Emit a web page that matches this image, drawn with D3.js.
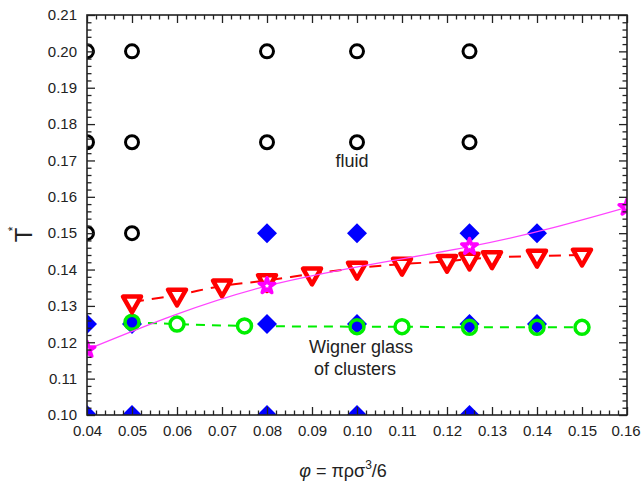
<!DOCTYPE html>
<html><head><meta charset="utf-8">
<script src="https://cdn.jsdelivr.net/npm/d3@7"></script>
<style>body{margin:0;background:#fff}svg{display:block}</style>
</head><body>
<svg id="c" width="641" height="482"></svg>
<script>
// ---- data ----
const xTicks = [0.04,0.05,0.06,0.07,0.08,0.09,0.10,0.11,0.12,0.13,0.14,0.15,0.16];
const yTicks = [0.10,0.11,0.12,0.13,0.14,0.15,0.16,0.17,0.18,0.19,0.20,0.21];

// fluid state points (black open circles)
const fluidPhi = [0.04,0.05,0.08,0.10,0.125, 0.04,0.05,0.08,0.10,0.125, 0.04,0.05];
const fluidT   = [0.20,0.20,0.20,0.20,0.20,  0.175,0.175,0.175,0.175,0.175, 0.15,0.15];

// glass state points (blue diamonds)
const glassPhi = [0.08,0.10,0.125,0.14, 0.04,0.05,0.08,0.10,0.125,0.14, 0.04,0.05,0.08,0.10,0.125];
const glassT   = [0.15,0.15,0.15,0.15, 0.125,0.125,0.125,0.125,0.125,0.125, 0.10,0.10,0.10,0.10,0.10];

// red down triangles
const triPhi = [0.05,0.06,0.07,0.08,0.09,0.10,0.11,0.12,0.125,0.13,0.14,0.15];
const triT   = [0.1311,0.1330,0.1355,0.1370,0.1388,0.1404,0.1415,0.1423,0.1429,0.1433,0.1437,0.1440];

// green open circles
const grnPhi = [0.05,0.06,0.075,0.10,0.11,0.125,0.14,0.15];
const grnT   = [0.1255,0.1250,0.1245,0.1243,0.1243,0.1241,0.1241,0.1241];

// magenta stars
const starPhi = [0.04,0.08,0.125,0.16];
const starT   = [0.1180,0.1355,0.1463,0.1571];

// ---- layout ----
const svg = d3.select("#c");
const L = 87, R = 627, T = 15, B = 415;
const x = d3.scaleLinear().domain([0.04,0.16]).range([L,R]);
const y = d3.scaleLinear().domain([0.10,0.21]).range([B,T]);
const font = "'Liberation Sans', Arial, Helvetica, sans-serif";

svg.append("defs").append("clipPath").attr("id","clip")
  .append("rect").attr("x",L).attr("y",T).attr("width",R-L).attr("height",B-T);

const zip = (a,b)=>a.map((v,i)=>[v,b[i]]);

const plot = svg.append("g").attr("clip-path","url(#clip)");

// black circles
plot.selectAll(".fl").data(zip(fluidPhi,fluidT)).join("circle")
  .attr("cx",d=>x(d[0])).attr("cy",d=>y(d[1])).attr("r",6.5)
  .attr("fill","none").attr("stroke","#000").attr("stroke-width",3);

// green dashed line
plot.append("path").datum(zip(grnPhi,grnT))
  .attr("d", d3.line().x(d=>x(d[0])).y(d=>y(d[1])).curve(d3.curveMonotoneX))
  .attr("fill","none").attr("stroke","#00ee00").attr("stroke-width",2)
  .attr("stroke-dasharray","9,7");
// green circle white backing
plot.selectAll(".gb").data(zip(grnPhi,grnT)).join("circle")
  .attr("cx",d=>x(d[0])).attr("cy",d=>y(d[1])).attr("r",7)
  .attr("fill","#fff");

// blue diamonds
const dh = 10;
plot.selectAll(".gl").data(zip(glassPhi,glassT)).join("path")
  .attr("transform",d=>`translate(${x(d[0])},${y(d[1])})`)
  .attr("d",`M0,${-dh}L${dh},0L0,${dh}L${-dh},0Z`)
  .attr("fill","#0000ff");

// green circles stroke
plot.selectAll(".gc").data(zip(grnPhi,grnT)).join("circle")
  .attr("cx",d=>x(d[0])).attr("cy",d=>y(d[1])).attr("r",7)
  .attr("fill","none").attr("stroke","#00ee00").attr("stroke-width",3.5);

// red dashed line
plot.append("path").datum(zip(triPhi,triT))
  .attr("d", d3.line().x(d=>x(d[0])).y(d=>y(d[1])).curve(d3.curveMonotoneX))
  .attr("fill","none").attr("stroke","#ff0000").attr("stroke-width",2)
  .attr("stroke-dasharray","12,8");
// red triangles
plot.selectAll(".tr").data(zip(triPhi,triT)).join("path")
  .attr("transform",d=>`translate(${x(d[0])},${y(d[1])})`)
  .attr("d","M-9,-5.3L9,-5.3L0,10.5Z")
  .attr("fill","#fff").attr("stroke","#ff0000").attr("stroke-width",4.5)
  .attr("stroke-linejoin","round");

// magenta curve
plot.append("path").datum(zip(starPhi,starT))
  .attr("d", d3.line().x(d=>x(d[0])).y(d=>y(d[1])).curve(d3.curveNatural))
  .attr("fill","none").attr("stroke","#ff44ff").attr("stroke-width",1.3);
// stars
plot.selectAll(".st").data(zip(starPhi,starT)).join("path")
  .attr("transform",d=>`translate(${x(d[0])},${y(d[1])})`)
  .attr("d", d3.symbol(d3.symbolStar, 75)())
  .attr("fill","#fff").attr("stroke","#ff00ff").attr("stroke-width",3.5)
  .attr("stroke-linejoin","round");

// ---- axes ----
const minorX = d3.range(0.04,0.1601,0.002).filter(v=>Math.abs(v*100-Math.round(v*100))>1e-6);
const minorY = d3.range(0.10,0.2101,0.002).filter(v=>Math.abs(v*100-Math.round(v*100))>1e-6);
function styleAxis(g){ g.select(".domain").remove(); g.selectAll("line").attr("stroke","#222").attr("stroke-width",1.3);
  g.selectAll("text").attr("font-family",font).attr("font-size","15px").attr("fill","#222"); }

const xb = svg.append("g").attr("transform",`translate(0,${B})`)
  .call(d3.axisBottom(x).tickValues(xTicks).tickSize(-8).tickPadding(10).tickFormat(d3.format(".2f"))).call(styleAxis);
xb.selectAll("text").filter(d=>d>0.159).attr("dx","-1.5");
svg.append("g").attr("transform",`translate(0,${B})`)
  .call(d3.axisBottom(x).tickValues(minorX).tickSize(-4.5).tickFormat("")).call(styleAxis);
svg.append("g").attr("transform",`translate(0,${T})`)
  .call(d3.axisTop(x).tickValues(xTicks).tickSize(-8).tickFormat("")).call(styleAxis);
svg.append("g").attr("transform",`translate(0,${T})`)
  .call(d3.axisTop(x).tickValues(minorX).tickSize(-4.5).tickFormat("")).call(styleAxis);

svg.append("g").attr("transform",`translate(${L},0)`)
  .call(d3.axisLeft(y).tickValues(yTicks).tickSize(-8).tickPadding(10).tickFormat(d3.format(".2f"))).call(styleAxis);
svg.append("g").attr("transform",`translate(${L},0)`)
  .call(d3.axisLeft(y).tickValues(minorY).tickSize(-4.5).tickFormat("")).call(styleAxis);
svg.append("g").attr("transform",`translate(${R},0)`)
  .call(d3.axisRight(y).tickValues(yTicks).tickSize(-8).tickFormat("")).call(styleAxis);
svg.append("g").attr("transform",`translate(${R},0)`)
  .call(d3.axisRight(y).tickValues(minorY).tickSize(-4.5).tickFormat("")).call(styleAxis);

svg.append("rect").attr("x",L).attr("y",T).attr("width",R-L).attr("height",B-T)
  .attr("fill","none").attr("stroke","#222").attr("stroke-width",1.6);

// ---- texts ----
svg.append("text").attr("x",352).attr("y",167).attr("text-anchor","middle")
  .attr("font-family",font).attr("font-size","18px").attr("fill","#222").text("fluid");
svg.append("text").attr("x",361).attr("y",353).attr("text-anchor","middle")
  .attr("font-family",font).attr("font-size","18px").attr("fill","#222").text("Wigner glass");
svg.append("text").attr("x",355).attr("y",375).attr("text-anchor","middle")
  .attr("font-family",font).attr("font-size","18px").attr("fill","#222").text("of clusters");

// x label
const xl = svg.append("text").attr("x",343).attr("y",477).attr("text-anchor","middle")
  .attr("font-family",font).attr("font-size","18px").attr("fill","#222");
xl.append("tspan").attr("font-style","italic").text("φ");
xl.append("tspan").text(" = πρσ");
xl.append("tspan").attr("font-size","12px").attr("dy","-8").text("3");
xl.append("tspan").attr("dy","8").text("/6");

// y label
svg.append("text").attr("transform","translate(32,235) rotate(-90)").attr("text-anchor","middle")
  .attr("font-family",font).attr("font-size","24px").attr("fill","#222").text("T");
svg.append("text").attr("transform","translate(17,229) rotate(-90)").attr("text-anchor","middle")
  .attr("font-family",font).attr("font-size","12px").attr("fill","#222").text("*");
</script>
</body></html>
